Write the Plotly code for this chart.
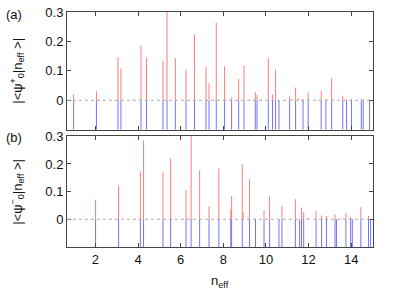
import plotly.graph_objects as go

# ---------------- data ----------------
# panel (a): overlaps |<psi0+|n_eff>|
neff_a = [0.98, 2.05, 3.06, 3.20, 3.72, 4.14, 4.40, 5.17, 5.36, 5.75, 6.25, 6.65, 7.19, 7.33,
          7.61, 7.67, 8.06, 8.39, 8.72, 8.97, 9.23, 9.50, 9.58, 9.78, 10.11, 10.31, 10.45, 10.61,
          11.11, 11.23, 11.39, 11.53, 11.74, 11.98, 12.39, 12.59, 12.81, 13.08, 13.60, 13.78,
          14.01, 14.47, 14.56, 14.86]
overlap_a = [0.021, 0.031, 0.147, 0.108, 0.002, 0.187, 0.146, 0.134, 0.31, 0.144, 0.104, 0.223,
             0.114, 0.058, 0.003, 0.263, 0.115, 0.009, 0.072, 0.118, 0.003, 0.027, 0.018, 0.003,
             0.143, 0.020, 0.104, 0.001, 0.013, 0.005, 0.043, 0.007, 0.005, 0.027, 0.002, 0.033,
             0.005, 0.075, 0.016, 0.003, 0.005, 0.005, 0.003, 0.005]
levels_a = [0.98, 2.05, 3.06, 3.20, 4.14, 4.40, 5.17, 5.36, 5.75, 6.25, 6.65, 7.19, 7.33, 7.67,
            8.06, 8.39, 8.72, 8.97, 9.50, 9.58, 10.11, 10.31, 10.45, 10.61, 11.11, 11.39, 11.74,
            11.98, 12.59, 12.81, 13.08, 13.60, 13.78, 14.01, 14.47, 14.56, 14.86]

# panel (b): overlaps |<psi0-|n_eff>|
neff_b = [2.01, 3.09, 4.11, 4.26, 5.17, 5.53, 6.25, 6.49, 6.89, 7.33, 7.79, 8.35, 8.39, 8.89,
          8.93, 9.23, 9.51, 9.91, 10.17, 10.75, 11.38, 11.67, 11.77, 11.95, 12.35, 12.61, 12.84,
          13.24, 13.52, 13.75, 13.97, 14.09, 14.45, 14.81]
overlap_b = [0.071, 0.121, 0.173, 0.285, 0.171, 0.221, 0.106, 0.31, 0.177, 0.048, 0.183, 0.036,
             0.084, 0.200, 0.026, 0.145, 0.003, 0.032, 0.083, 0.048, 0.073, 0.043, 0.026, 0.005,
             0.030, 0.014, 0.012, 0.018, 0.003, 0.023, 0.008, 0.002, 0.044, 0.012]
levels_b = [2.01, 3.09, 4.11, 4.26, 5.17, 5.53, 6.25, 6.49, 6.89, 7.33, 7.79, 8.35, 8.39, 8.89,
            9.23, 9.51, 9.91, 10.17, 10.61, 10.75, 11.38, 11.58, 11.67, 11.77, 12.35, 12.61,
            12.84, 13.24, 13.31, 13.75, 13.97, 14.05, 14.45, 14.81, 14.91]

x_ticks = [2, 4, 6, 8, 10, 12, 14]
y_ticks = [0, 0.1, 0.2, 0.3]
y_ticktext = ["0", "0.1", "0.2", "0.3"]
x_range = [0.67, 15.02]
y_range = [-0.1, 0.3]

RED = "rgb(255,125,125)"
BLUE = "rgb(115,115,255)"
FONT = "Liberation Sans, Arial, sans-serif"


def stems(xs, tops, base):
    X, Y = [], []
    for x, t in zip(xs, tops):
        X += [x, x, None]
        Y += [base, t, None]
    return X, Y


fig = go.Figure()

for xs, ys, lv, xa, ya in [(neff_a, overlap_a, levels_a, "x", "y"),
                           (neff_b, overlap_b, levels_b, "x2", "y2")]:
    bx, by = stems(lv, [y_range[0]] * len(lv), 0)
    fig.add_trace(go.Scatter(x=bx, y=by, mode="lines", line=dict(color=BLUE, width=1),
                             xaxis=xa, yaxis=ya, hoverinfo="skip", showlegend=False))
    rx, ry = stems(xs, ys, 0)
    fig.add_trace(go.Scatter(x=rx, y=ry, mode="lines", line=dict(color=RED, width=1),
                             xaxis=xa, yaxis=ya, hoverinfo="skip", showlegend=False))

axis_common = dict(showline=True, mirror="ticks", linecolor="#444", linewidth=1,
                   ticks="inside", ticklen=4, tickwidth=1, tickcolor="#444",
                   showgrid=False, zeroline=False, automargin=False,
                   tickfont=dict(family=FONT, size=13, color="#111"))

fig.update_layout(
    width=395, height=289,
    margin=dict(l=67, r=22, t=12, b=42),
    paper_bgcolor="white", plot_bgcolor="white",
    xaxis=dict(domain=[0, 1], anchor="y", range=x_range, tickvals=x_ticks,
               showticklabels=False, **axis_common),
    yaxis=dict(domain=[0.499, 1], anchor="x", range=y_range, tickvals=y_ticks,
               ticktext=y_ticktext, **axis_common),
    xaxis2=dict(domain=[0, 1], anchor="y2", range=x_range, tickvals=x_ticks,
                **axis_common),
    yaxis2=dict(domain=[0, 0.471], anchor="x2", range=y_range, tickvals=y_ticks,
                ticktext=y_ticktext, **axis_common),
    font=dict(family=FONT, size=13, color="#111"),
)

for xr, yr in [("x", "y"), ("x2", "y2")]:
    fig.add_shape(type="line", xref=f"{xr} domain", yref=yr, x0=0, x1=1, y0=0, y1=0,
                  line=dict(color="#b4a8a8", width=1, dash="dot"), layer="above")

ann = dict(showarrow=False, font=dict(family=FONT, size=13, color="#111"))
fig.add_annotation(text="(a)", xref="paper", yref="paper", x=0, y=1, xanchor="center",
                   yanchor="middle", xshift=-53, yshift=-2, **ann)
fig.add_annotation(text="(b)", xref="paper", yref="paper", x=0, y=0.471, xanchor="center",
                   yanchor="middle", xshift=-53, yshift=-1, **ann)
fig.add_annotation(text="|<ψ<sup>+</sup><sub>0</sub>|n<sub>eff</sub> >|", xref="paper",
                   yref="paper", x=0, y=0.75, textangle=-90, xanchor="center",
                   yanchor="middle", xshift=-50, **ann)
fig.add_annotation(text="|<ψ<sup>−</sup><sub>0</sub>|n<sub>eff</sub> >|", xref="paper",
                   yref="paper", x=0, y=0.235, textangle=-90, xanchor="center",
                   yanchor="middle", xshift=-50, **ann)
fig.add_annotation(text="n<sub>eff</sub>", xref="paper", yref="paper", x=0.5, y=0,
                   xanchor="center", yanchor="top", yshift=-24, **ann)

fig.write_html("out.html", config={"displayModeBar": False},
               post_script="document.body.style.margin='0';document.body.style.padding='0';")
